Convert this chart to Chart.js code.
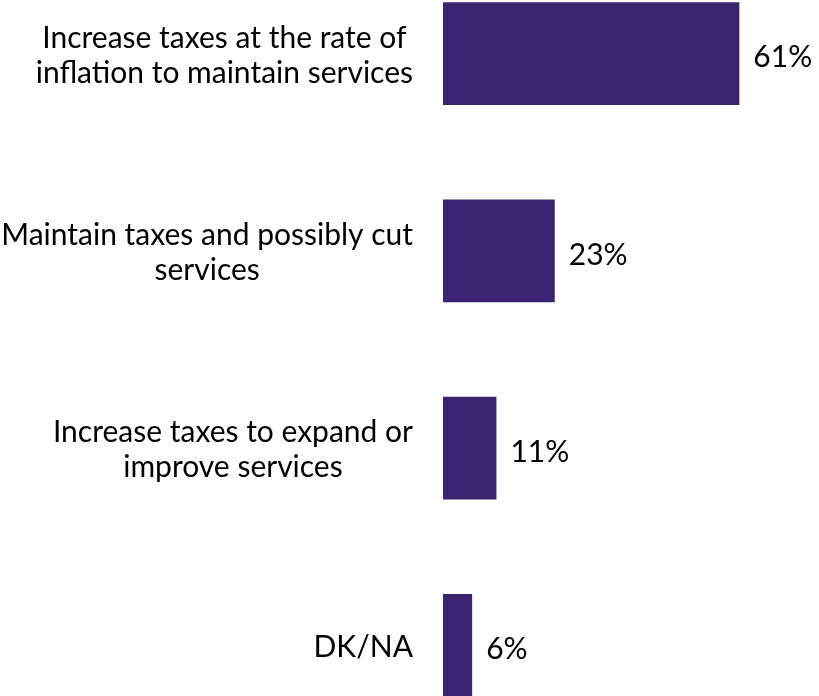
<!DOCTYPE html>
<html>
<head>
<meta charset="utf-8">
<script src="https://cdn.jsdelivr.net/npm/chart.js@4"></script>
<style>
  html, body { margin: 0; padding: 0; background: #fff; overflow: hidden; }
  #wrap { position: absolute; left: 0; top: -45px; width: 819px; height: 789px; }
</style>
</head>
<body>
<div id="wrap"><canvas id="grafica" width="819" height="789"></canvas></div>
<script>
// ======= DATOS =======
const categorias = [
  ["Increase taxes at the rate of", "inflation to maintain services"],
  ["Maintain taxes and possibly cut", "services"],
  ["Increase taxes to expand or", "improve services"],
  ["DK/NA"]
];
const valores = [61, 23, 11, 6];
const etiquetasValor = ["61%", "23%", "11%", "6%"];

const FUENTE = "Lato, 'Open Sans', sans-serif";
const TAM = 30;

// ======= ETIQUETAS =======
const etiquetasPlugin = {
  id: "etiquetas",
  afterDraw(chart) {
    const ctx = chart.ctx;
    const y = chart.scales.y;
    const area = chart.chartArea;
    ctx.save();
    ctx.font = TAM + "px " + FUENTE;
    ctx.fillStyle = "#000";
    ctx.textBaseline = "middle";
    const lineH = 35;
    categorias.forEach((lineas, i) => {
      const cy = y.getPixelForValue(i) + 2;
      const ancho = Math.max(...lineas.map(l => ctx.measureText(l).width));
      const cx = area.left - 30 - ancho / 2;
      ctx.textAlign = "center";
      lineas.forEach((l, k) => {
        ctx.fillText(l, cx, cy + (k - (lineas.length - 1) / 2) * lineH);
      });
    });
    // valores a la derecha de cada barra
    const meta = chart.getDatasetMeta(0);
    ctx.textAlign = "left";
    meta.data.forEach((bar, i) => {
      ctx.fillText(etiquetasValor[i], bar.x + 14, bar.y + 4);
    });
    ctx.restore();
  }
};

new Chart(document.getElementById("grafica").getContext("2d"), {
  type: "bar",
  data: {
    labels: categorias,
    datasets: [{
      data: valores,
      backgroundColor: "#3c2370",
      borderWidth: 0,
      categoryPercentage: 1,
      barPercentage: 0.52
    }]
  },
  options: {
    indexAxis: "y",
    responsive: false,
    animation: false,
    layout: { padding: { left: 443, right: 0, top: 0, bottom: 0 } },
    plugins: { legend: { display: false }, tooltip: { enabled: false } },
    scales: {
      x: { display: false, min: 0, max: 77.4 },
      y: { display: false }
    }
  },
  plugins: [etiquetasPlugin]
});
</script>
</body>
</html>
